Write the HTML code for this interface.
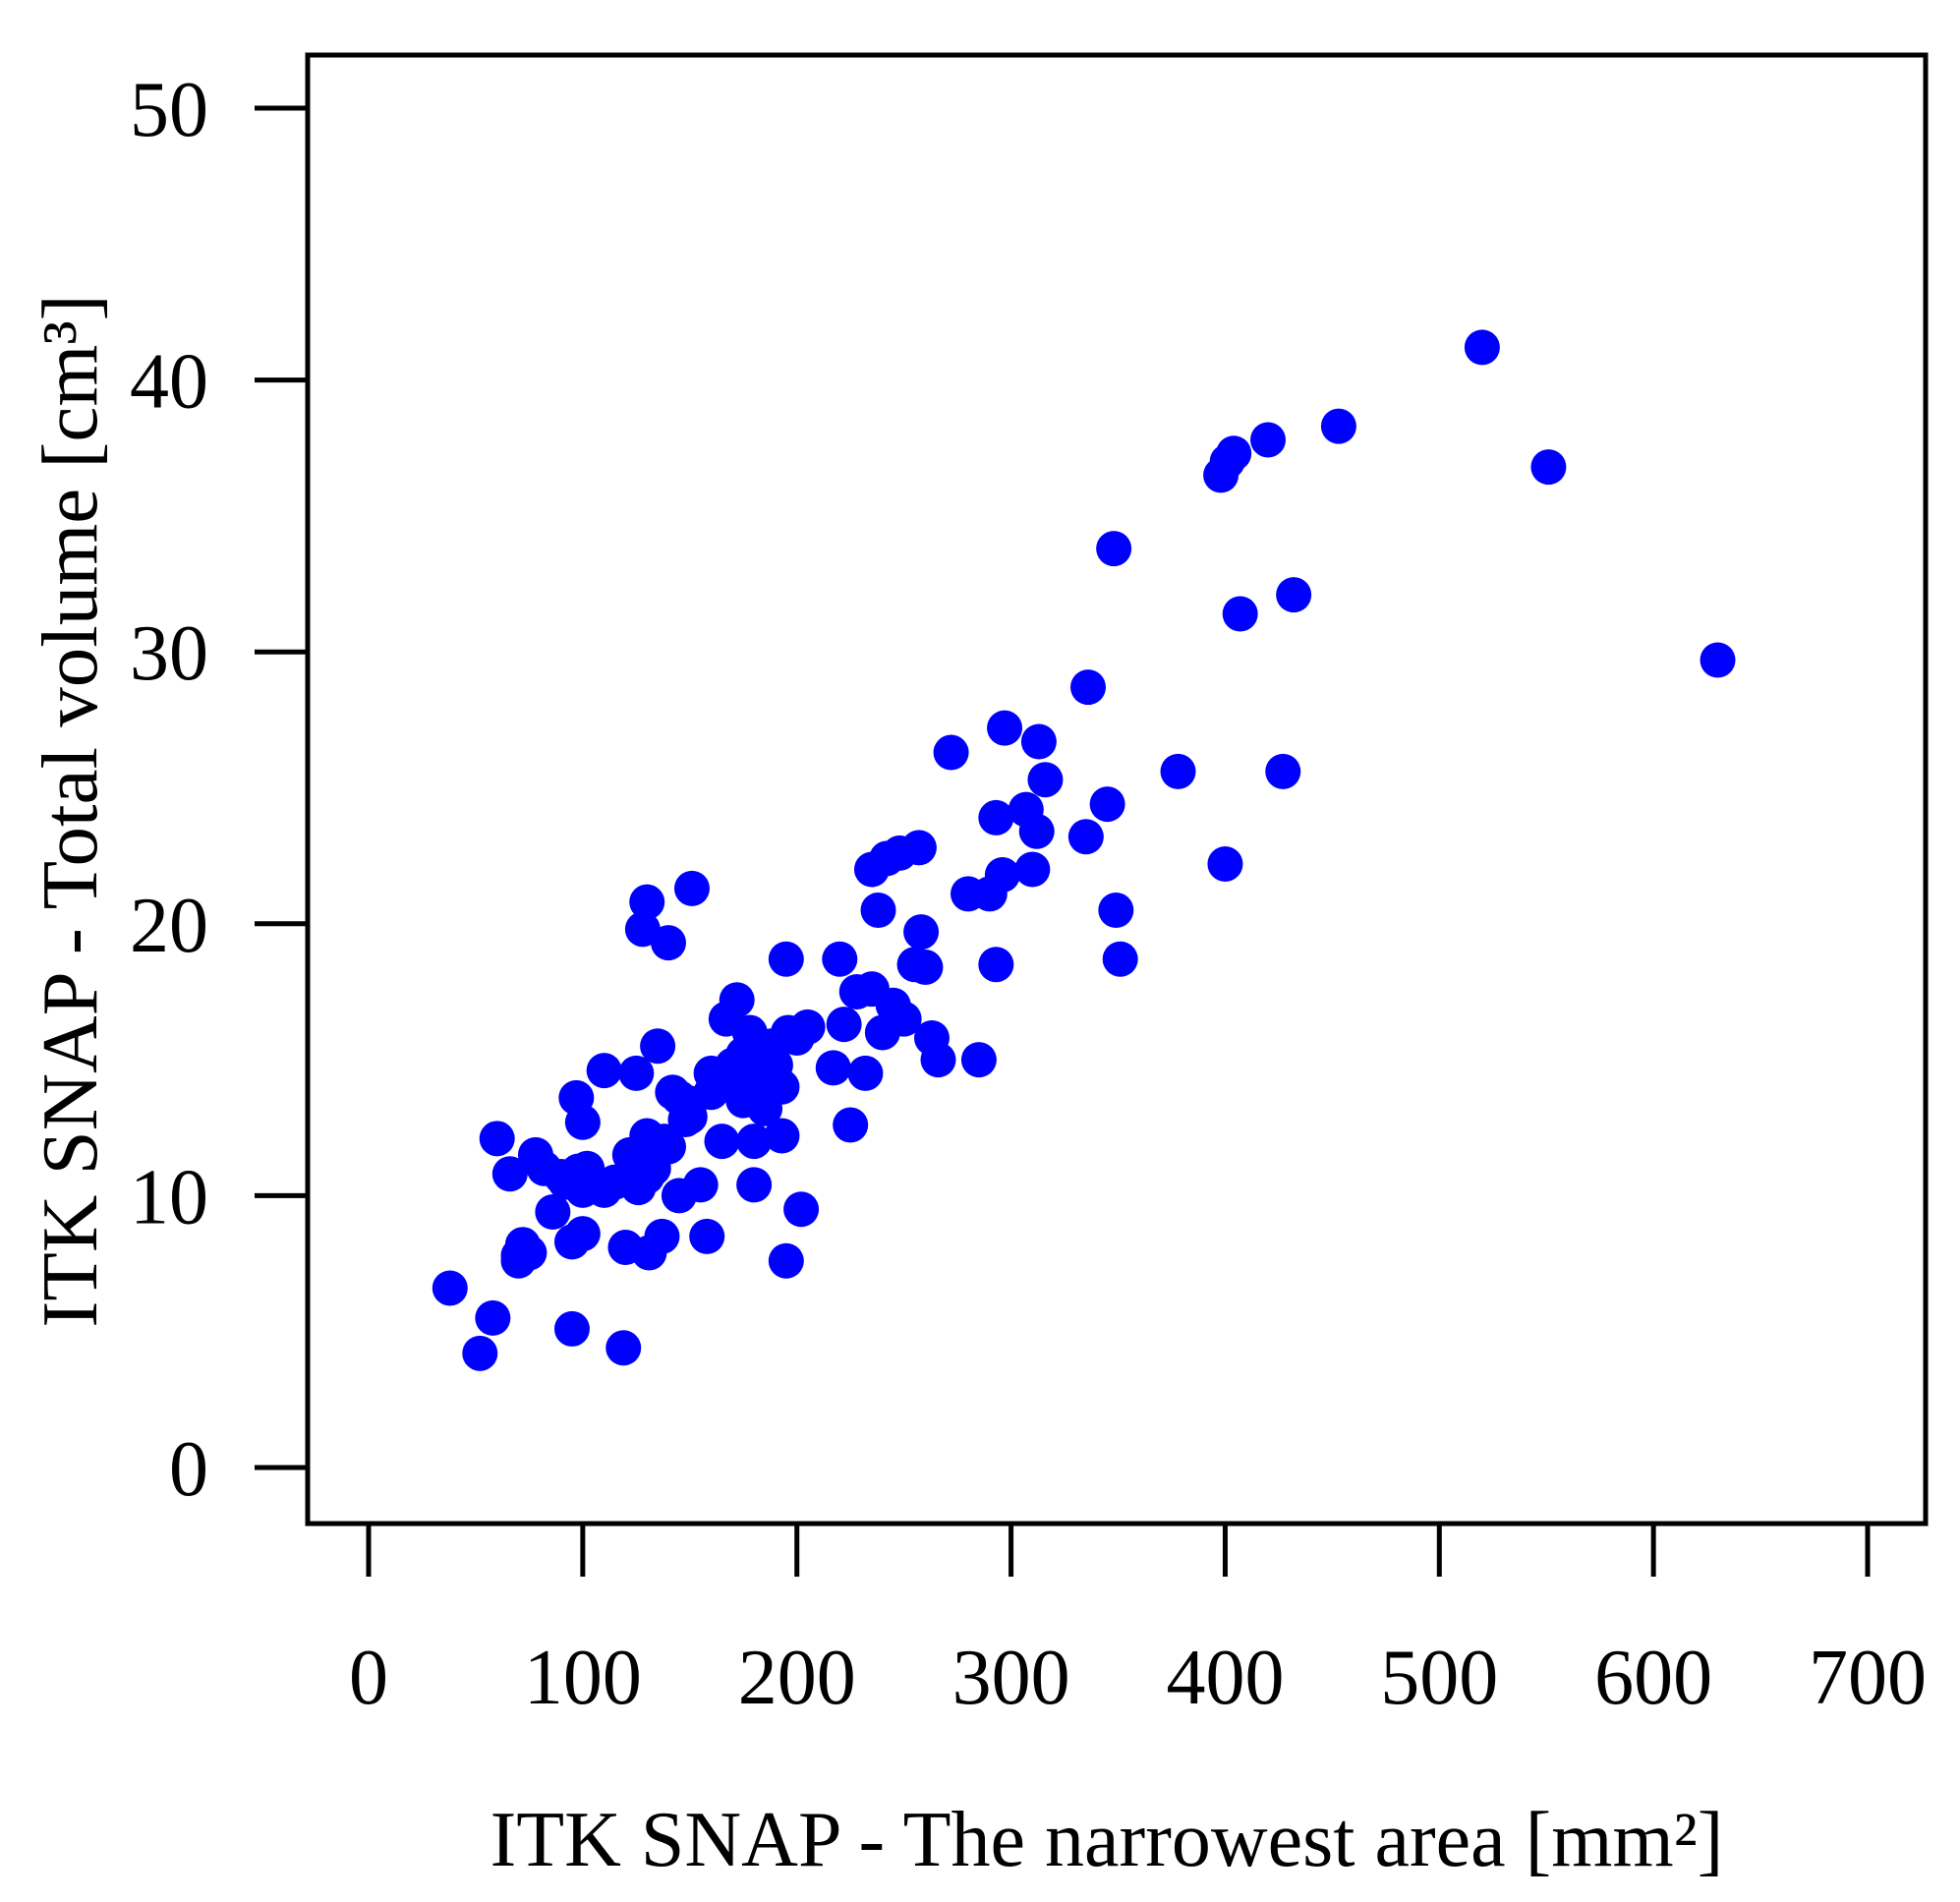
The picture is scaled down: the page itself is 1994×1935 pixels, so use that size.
<!DOCTYPE html>
<html><head><meta charset="utf-8"><style>
html,body{margin:0;padding:0;background:#fff;}
svg{display:block;}
text{font-family:"Liberation Serif",serif;fill:#000;}
</style></head><body>
<svg id="chart" width="1994" height="1935" viewBox="0 0 1994 1935" xmlns="http://www.w3.org/2000/svg">
<rect x="313" y="56" width="1646" height="1494" fill="none" stroke="#000" stroke-width="5"/>
<g id="xaxis"></g>
<g id="yaxis"></g>
<g id="points"></g>
<text x="1126" y="1898" font-size="80" text-anchor="middle">ITK SNAP - The narrowest area [mm²]</text>
<text transform="translate(98,825) rotate(-90)" font-size="81" text-anchor="middle">ITK SNAP - Total volume [cm³]</text>
</svg>
<script>
const xTicks = [0,100,200,300,400,500,600,700];
const yTicks = [0,10,20,30,40,50];
const xVals = [38,52,58,60,66,70,72,75,78,82,86,90,95,95,97,98,100,100,102,105,110,115,119,120,122,125,126,128,130,130,131,133,135,137,140,140,142,145,148,150,151,155,158,160,165,167,170,172,175,178,180,180,183,185,190,193,193,195,195,196,200,202,217,220,222,225,228,232,235,235,238,240,242,245,248,250,255,257,258,260,263,266,272,280,285,290,293,293,296,297,307,310,312,313,316,335,336,345,348,349,351,378,398,400,401,404,407,420,427,432,453,520,551,630,168,175,185,188,150,138,130,110,92,100,70,145,160,205,188,178];
const yVals = [6.6,4.2,5.5,12.1,10.8,7.6,8.2,7.9,11.5,11,9.4,10.7,8.3,5.1,13.6,10.9,12.7,8.6,11,10.5,14.6,10.5,4.4,8.1,11.5,14.5,10.3,19.8,20.8,12.2,7.9,11,15.5,8.5,19.3,11.8,13.8,10,12.8,13.4,21.3,10.4,8.5,13.8,12,16.5,14.8,17.2,13.5,16,12,10.4,14.6,15,14.8,12.2,14,18.7,7.6,16,15.8,9.5,14.7,18.7,16.3,12.6,17.5,14.5,17.6,22,20.5,16,22.4,17,22.6,16.5,18.5,22.8,19.7,18.4,15.8,15,26.3,21.1,15,21.1,23.9,18.5,21.8,27.2,24.2,22,23.4,26.7,25.3,23.2,28.7,24.4,33.8,20.5,18.7,25.6,36.5,22.2,37,37.3,31.4,37.8,25.6,32.1,38.3,41.2,36.8,29.7,14.2,15.2,13.2,14.3,12.9,12,10.7,10.2,10.5,10.2,7.8,13.6,14.5,16.2,15.5,14.0];
const NS='http://www.w3.org/2000/svg';
function sx(v){return 375 + v*2.1786;}
function sy(v){return 1493 - v*27.66;}
function mk(tag,attrs,parent){const e=document.createElementNS(NS,tag);for(const k in attrs)e.setAttribute(k,attrs[k]);parent.appendChild(e);return e;}
const xa=document.getElementById('xaxis'), ya=document.getElementById('yaxis'), pg=document.getElementById('points');
xTicks.forEach(t=>{
  const l=mk('line',{x1:sx(t),x2:sx(t),y1:1550,y2:1604,stroke:'#000','stroke-width':5},xa);
  
  
  const tx=mk('text',{x:sx(t),y:1733,'font-size':80,'text-anchor':'middle'},xa);
  tx.textContent=t;
  
  
});
yTicks.forEach(t=>{
  const l=mk('line',{x1:259,x2:313,y1:sy(t),y2:sy(t),stroke:'#000','stroke-width':5},ya);
  
  
  const tx=mk('text',{x:212,y:sy(t)+28,'font-size':80,'text-anchor':'end'},ya);
  tx.textContent=t;
  
  
});
xVals.forEach((v,i)=>{
  const c=mk('circle',{cx:sx(v),cy:sy(yVals[i]),r:18,fill:'#0000ff'},pg);
  
  
});
</script>
</body></html>
